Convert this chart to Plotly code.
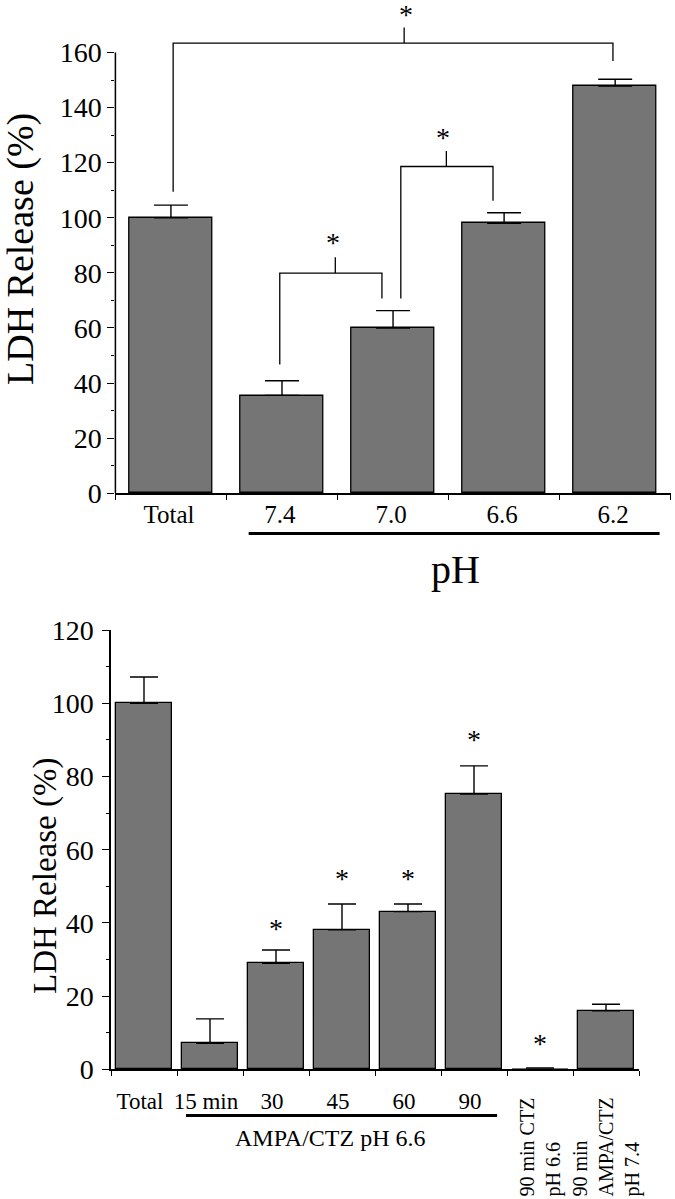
import plotly.graph_objects as go

# ---------------- data ----------------
# Top panel: LDH release vs pH
top_categories = ["Total", "7.4", "7.0", "6.6", "6.2"]
top_values = [100.0, 35.5, 60.0, 98.0, 147.8]
top_errors = [4.6, 5.3, 6.3, 3.8, 2.5]

# significance brackets (top panel)
bracket_x_left = [0.02, 0.98, 2.07]
bracket_x_right = [3.98, 1.90, 2.90]
bracket_y_left = [109.4, 46.7, 70.7]
bracket_y_right = [156.9, 70.7, 106.2]
bracket_y_bar = [163.4, 79.9, 118.6]
bracket_x_mid = [2.10, 1.48, 2.48]
bracket_y_mid = [169.1, 85.7, 124.2]
top_star_x = [2.12, 1.46, 2.45]
top_star_y = [174.5, 91.6, 129.8]

# Bottom panel: LDH release vs AMPA/CTZ exposure
bottom_categories = ["Total", "15 min", "30", "45", "60", "90",
                     "90 min CTZ<br>pH 6.6", "90 min<br>AMPA/CTZ<br>pH 7.4"]
bottom_values = [100.0, 7.1, 29.0, 38.1, 43.1, 75.2, 0.4, 16.0]
bottom_errors = [7.2, 6.7, 3.6, 7.1, 2.1, 7.7, 0.0, 1.8]
bottom_star_x = [2, 3, 4, 5, 6]
bottom_star_y = [39.0, 52.6, 52.6, 90.7, 7.5]

top_y_ticks = [0, 20, 40, 60, 80, 100, 120, 140, 160]
top_y_minor = [10, 30, 50, 70, 90, 110, 130, 150]
bottom_y_ticks = [0, 20, 40, 60, 80, 100, 120]
bottom_y_minor = [10, 30, 50, 70, 90, 110]

# ---------------- style ----------------
FONT = "'Liberation Serif', 'Times New Roman', Times, serif"
BAR = "#757575"
W, H = 675, 1199

fig = go.Figure()

# top bars
fig.add_trace(go.Bar(
    x=list(range(len(top_categories))), y=top_values, width=0.75,
    marker=dict(color=BAR, line=dict(color="black", width=1.3)),
    error_y=dict(type="data", symmetric=False, array=top_errors,
                 arrayminus=[0] * len(top_errors), width=17, thickness=1.4, color="black"),
    xaxis="x", yaxis="y", showlegend=False, hoverinfo="skip"))

# brackets
bx, by = [], []
for xl, xr, yl, yr, yb, xm, ym in zip(bracket_x_left, bracket_x_right, bracket_y_left,
                                      bracket_y_right, bracket_y_bar, bracket_x_mid, bracket_y_mid):
    bx += [xl, xl, xr, xr, None, xm, xm, None]
    by += [yl, yb, yb, yr, None, yb, ym, None]
fig.add_trace(go.Scatter(x=bx, y=by, mode="lines", line=dict(color="black", width=1.3),
                         xaxis="x", yaxis="y", showlegend=False, hoverinfo="skip"))

# bottom bars
n_b = len(bottom_categories)
fig.add_trace(go.Bar(
    x=list(range(n_b)), y=bottom_values, width=0.84,
    marker=dict(color=BAR,
                line=dict(color="black", width=[1.3] * 6 + [0] + [1.3])),
    error_y=dict(type="data", symmetric=False, array=bottom_errors,
                 arrayminus=[0] * n_b, width=14, thickness=1.4, color="black"),
    xaxis="x2", yaxis="y2", showlegend=False, hoverinfo="skip"))

tickfont = dict(family=FONT, size=28, color="black")

fig.update_layout(
    width=W, height=H, margin=dict(l=0, r=0, t=0, b=0, autoexpand=False),
    paper_bgcolor="white", plot_bgcolor="white", bargap=0,
    font=dict(family=FONT, color="black"),
    xaxis=dict(domain=[115.4 / W, 670.7 / W], range=[-0.5, 4.5], automargin=False,
               showline=True, linecolor="black", linewidth=1.5,
               tickmode="array", tickvals=list(range(5)), ticktext=top_categories,
               ticks="", showgrid=False, zeroline=False,
               tickfont=dict(family=FONT, size=25, color="black"),
               ticklabelstandoff=-2, ticklabelshift=-2,
               minor=dict(tickmode="array", tickvals=[i - 0.5 for i in range(6)],
                          ticks="outside", ticklen=5, tickwidth=1.3, tickcolor="black",
                          showgrid=False)),
    yaxis=dict(domain=[1 - 493.2 / H, 1 - 2.9 / H], range=[0, 178], automargin=False,
               showline=False, tickmode="array", tickvals=top_y_ticks,
               ticks="outside", ticklen=7, tickwidth=1.3, tickcolor="black",
               showgrid=False, zeroline=False, tickfont=tickfont,
               minor=dict(tickmode="array", tickvals=top_y_minor, ticks="outside",
                          ticklen=3, tickwidth=1.2, tickcolor="black", showgrid=False)),
    xaxis2=dict(domain=[111 / W, 639 / W], range=[-0.5, 7.5], anchor="y2", automargin=False,
                showline=True, linecolor="black", linewidth=1.5,
                tickmode="array", tickvals=list(range(6)), ticktext=bottom_categories[:6],
                ticks="", showgrid=False, zeroline=False,
                tickfont=dict(family=FONT, size=23, color="black"),
                ticklabelstandoff=10, ticklabelshift=-4,
                minor=dict(tickmode="array", tickvals=[i - 0.5 for i in range(9)],
                           ticks="outside", ticklen=5, tickwidth=1.3, tickcolor="black",
                           showgrid=False)),
    yaxis2=dict(domain=[1 - 1069.4 / H, 1 - 630.1 / H], range=[0, 120], anchor="x2",
                automargin=False,
                showline=True, linecolor="black", linewidth=1.5,
                tickmode="array", tickvals=bottom_y_ticks,
                ticks="outside", ticklen=7, tickwidth=1.3, tickcolor="black",
                showgrid=False, zeroline=False, tickfont=tickfont,
                ticklabelstandoff=3,
                minor=dict(tickmode="array", tickvals=bottom_y_minor, ticks="outside",
                           ticklen=3, tickwidth=1.2, tickcolor="black", showgrid=False)),
)

shapes = [
    # top y-axis line (only up to 160)
    dict(type="line", xref="x domain", x0=0, x1=0, yref="y", y0=0, y1=top_y_ticks[-1],
         line=dict(color="black", width=1.5)),
    # underline for pH group
    dict(type="line", xref="x", x0=0.70, x1=4.40, yref="paper",
         y0=1 - 533.6 / H, y1=1 - 533.6 / H, line=dict(color="black", width=3)),
    # underline for AMPA/CTZ group
    dict(type="line", xref="x2", x0=0.636, x1=5.35, yref="paper",
         y0=1 - 1115.5 / H, y1=1 - 1115.5 / H, line=dict(color="black", width=3)),
]
fig.update_layout(shapes=shapes)

ann = []
ann.append(dict(text="LDH Release (%)", xref="paper", yref="paper", x=21 / W, y=1 - 249 / H,
                textangle=-90, showarrow=False, xanchor="center", yanchor="middle",
                font=dict(family=FONT, size=38, color="black")))
ann.append(dict(text="pH", xref="paper", yref="paper", x=455 / W, y=1 - 569 / H,
                showarrow=False, xanchor="center", yanchor="middle",
                font=dict(family=FONT, size=40, color="black")))
for sx, sy in zip(top_star_x, top_star_y):
    ann.append(dict(text="*", xref="x", yref="y", x=sx, y=sy, showarrow=False,
                    xanchor="center", yanchor="middle", yshift=-2,
                    font=dict(family=FONT, size=28, color="black")))
ann.append(dict(text="LDH Release (%)", xref="paper", yref="paper", x=45 / W, y=1 - 876 / H,
                textangle=-90, showarrow=False, xanchor="center", yanchor="middle",
                font=dict(family=FONT, size=33, color="black")))
ann.append(dict(text="AMPA/CTZ pH 6.6", xref="x2", yref="paper", x=2.82, y=1 - 1138 / H,
                showarrow=False, xanchor="center", yanchor="middle",
                font=dict(family=FONT, size=24, color="black")))
for sx, sy in zip(bottom_star_x, bottom_star_y):
    ann.append(dict(text="*", xref="x2", yref="y2", x=sx, y=sy, showarrow=False,
                    xanchor="center", yanchor="middle", yshift=-2,
                    font=dict(family=FONT, size=28, color="black")))
for i in (6, 7):
    ann.append(dict(text=bottom_categories[i], xref="x2", yref="paper", x=i, y=0,
                    textangle=-90, showarrow=False, xanchor="center", yanchor="bottom",
                    align="left", font=dict(family=FONT, size=20, color="black")))
fig.update_layout(annotations=ann)

fig.write_html(
    "out.html",
    config={"displayModeBar": False},
    post_script=(
        "document.documentElement.style.margin='0';"
        "document.body.style.margin='0';"
        "document.body.style.fontSize='0';"
        "document.body.style.lineHeight='0';"
        "document.documentElement.style.overflow='hidden';"
        "var d=document.getElementById('{plot_id}');"
        "d.style.position='absolute';d.style.left='0px';d.style.top='0px';"
    ),
)
